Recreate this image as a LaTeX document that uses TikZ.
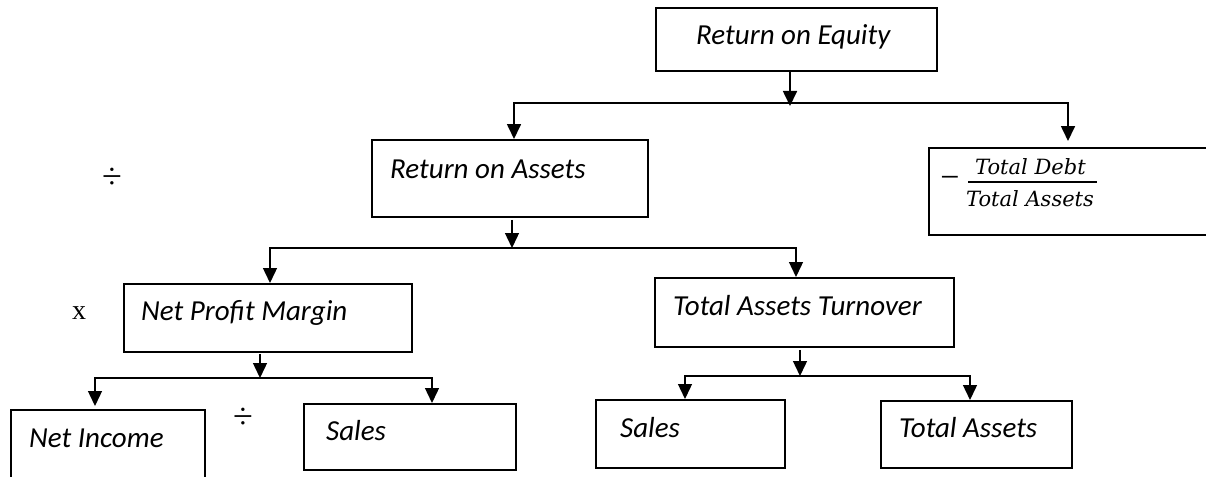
\documentclass[tikz,border=0pt]{standalone}
\usepackage{fontspec}
\setmainfont{Carlito}
\newfontfamily\opfont{Liberation Serif}
\newfontfamily\fracfont{DejaVu Serif}
\usetikzlibrary{arrows.meta}

\begin{document}
\begin{tikzpicture}[x=1pt,y=-1pt,
  box/.style={draw,line width=1.8pt,inner sep=0pt,anchor=north west},
  lbl/.style={inner sep=0pt,anchor=base west,font=\fontsize{29}{33}\selectfont\itshape},
  op/.style={inner sep=0pt,font=\opfont\fontsize{28}{32}\selectfont},
  frac/.style={inner sep=0pt,anchor=base west,font=\fracfont\fontsize{21}{24}\selectfont\itshape},
  conn/.style={line width=1.4pt},
  arr/.style={conn,-{Triangle[width=14pt,length=15pt]}},
]
\useasboundingbox (0,0) rectangle (1206,476);
\fill[white] (0,0) rectangle (1206,476);

% boxes
\node[box,minimum width=281pt,minimum height=63pt] (roe)  at (655,7)   {};
\node[box,minimum width=276pt,minimum height=77pt] (roa)  at (371,139) {};
\node[box,minimum width=302pt,minimum height=87pt] (debt) at (928,147) {};
\node[box,minimum width=288pt,minimum height=68pt] (npm)  at (123,283) {};
\node[box,minimum width=299pt,minimum height=69pt] (tat)  at (654,277) {};
\node[box,minimum width=194pt,minimum height=91pt] (ni)   at (10,409)  {};
\node[box,minimum width=212pt,minimum height=66pt] (sa)   at (303,403) {};
\node[box,minimum width=189pt,minimum height=68pt] (sb)   at (595,399) {};
\node[box,minimum width=191pt,minimum height=67pt] (ta)   at (880,400) {};

% box texts
\node[lbl] (roe-t) at (696,45)  {Return on Equity};
\node[lbl] (roa-t) at (390,178) {Return on Assets};
\node[lbl] (npm-t) at (141,320) {Net Profit Margin};
\node[lbl] (tat-t) at (673,315) {Total Assets Turnover};
\node[lbl] (ni-t)  at (29,447)  {Net Income};
\node[lbl] (sa-t)  at (326,440) {Sales};
\node[lbl] (sb-t)  at (620,437) {Sales};
\node[lbl] (ta-t)  at (899,437) {Total Assets};

% debt ratio term
\node[frac] (num) at (975,174) {Total Debt};
\node[frac] (den) at (966,206) {Total Assets};
\draw[line width=2.3pt] (968,182) -- (1097,182);
\node[inner sep=0pt,font=\opfont\fontsize{34}{38}\selectfont] (minus) at (950,182) {−};

% operators
\node[op,font=\opfont\fontsize{36}{40}\selectfont] (div1) at (112,178) {÷};
\node[op] (times) at (79,313) {x};
\node[op,font=\opfont\fontsize{36}{40}\selectfont] (div2) at (243,418) {÷};

% junctions
\coordinate (j1) at (790,103);
\coordinate (j2) at (512,248);
\coordinate (j3) at (260,378);
\coordinate (j4) at (800,376);

% return on equity split
\draw[arr,line width=1.7pt,shorten >=-3pt] (roe.south -| j1) -- (j1);
\draw[arr,line width=1.7pt] (j1) -| (514,0 |- roa.north);
\draw[arr,line width=1.7pt,shorten >=6pt] (j1) -| (1068,0 |- debt.north);

% return on assets split
\draw[arr,shorten <=2pt] (roa.south -| j2) -- (j2);
\draw[arr] (j2) -| (270,0 |- npm.north);
\draw[arr] (j2) -| (796,0 |- tat.north);

% net profit margin split
\draw[arr,shorten <=1pt] (npm.south -| j3) -- (j3);
\draw[arr,shorten >=3pt] (j3) -| (95,0 |- ni.north);
\draw[arr] (j3) -| (432,0 |- sa.north);

% total assets turnover split
\draw[arr,shorten <=2pt] (tat.south -| j4) -- (j4);
\draw[arr] (j4) -| (685,0 |- sb.north);
\draw[arr] (j4) -| (970,0 |- ta.north);
\end{tikzpicture}
\end{document}
